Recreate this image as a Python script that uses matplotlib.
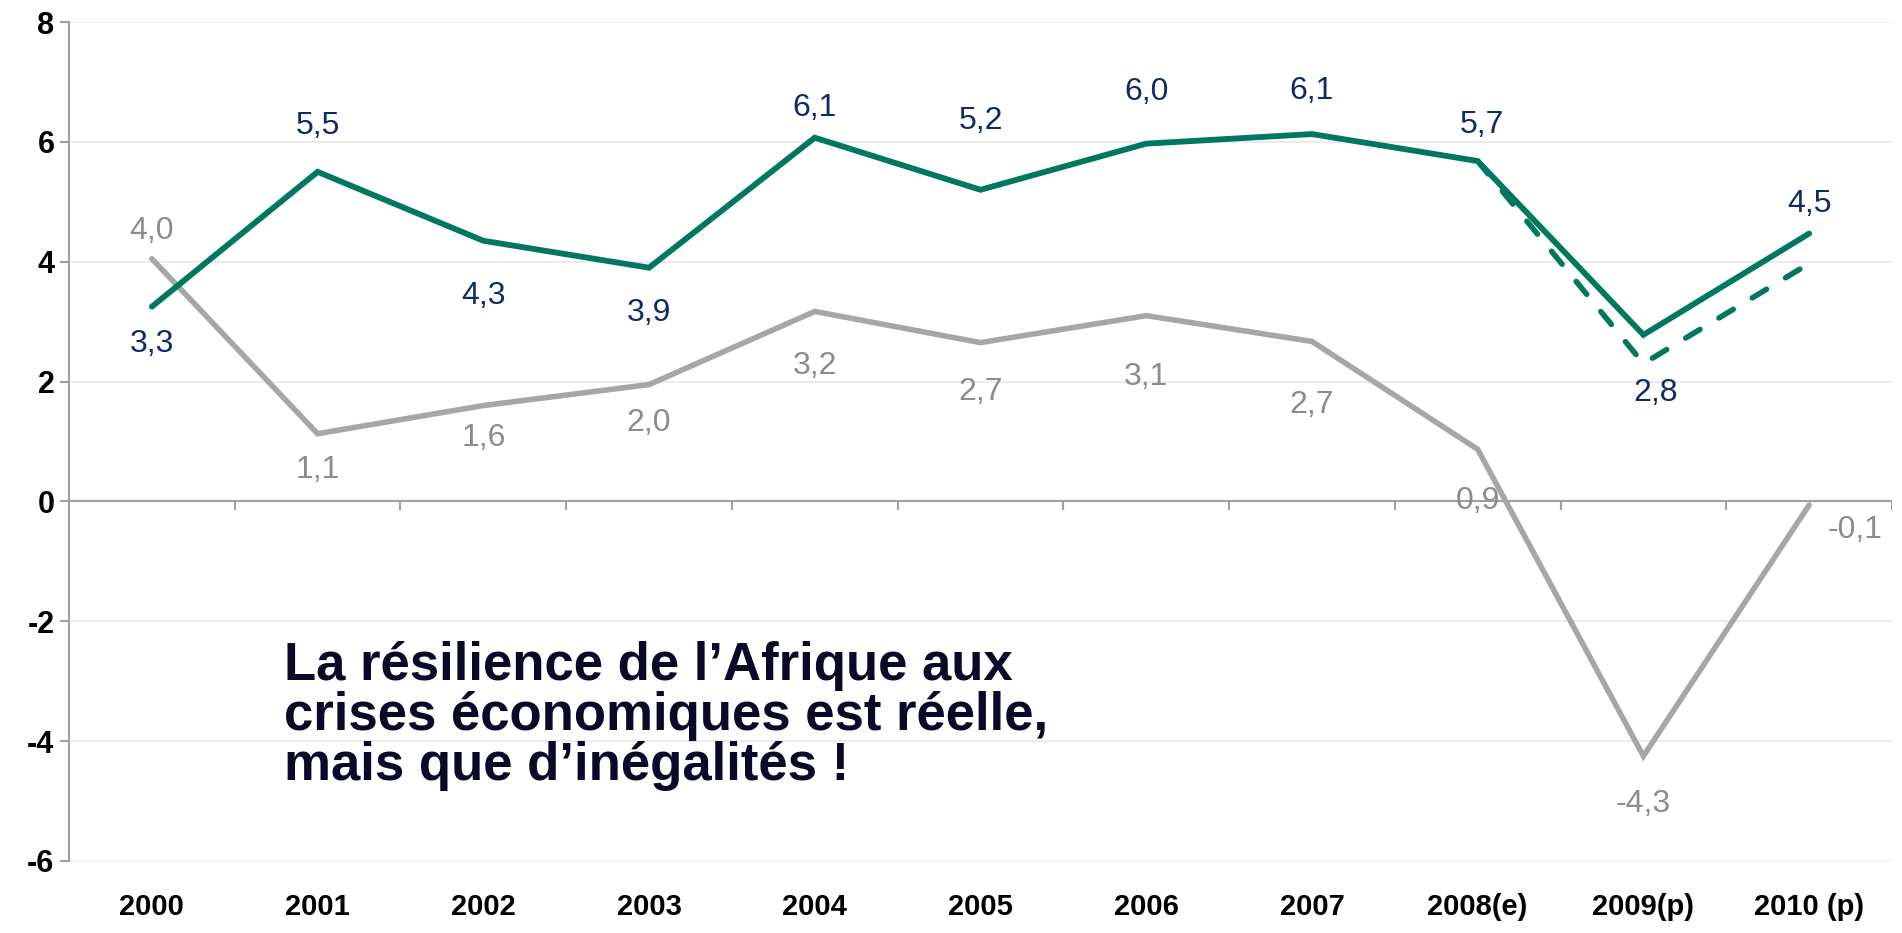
import matplotlib
matplotlib.use("Agg")
import matplotlib.pyplot as plt
import numpy as np

plt.rcParams['font.family'] = ['Liberation Sans', 'DejaVu Sans']
plt.rcParams['axes.unicode_minus'] = False

years = ["2000", "2001", "2002", "2003", "2004", "2005", "2006", "2007",
         "2008(e)", "2009(p)", "2010 (p)"]
afrique = [3.25, 5.5, 4.35, 3.9, 6.07, 5.2, 5.97, 6.13, 5.68, 2.78, 4.47]
afrique_lbl = ["3,3", "5,5", "4,3", "3,9", "6,1", "5,2", "6,0", "6,1", "5,7", "2,8", "4,5"]
afrique_prev = [5.68, 2.3, 3.97]          # ancienne prévision, 2008 -> 2010
monde = [4.05, 1.13, 1.6, 1.95, 3.17, 2.65, 3.1, 2.67, 0.87, -4.25, -0.06]
monde_lbl = ["4,0", "1,1", "1,6", "2,0", "3,2", "2,7", "3,1", "2,7", "0,9", "-4,3", "-0,1"]

# label offsets in pixels (dx, dy), as placed in the original
afr_off = [(0, -37), (0, 46), (0, -55), (0, -45), (0, 30), (0, 69), (0, 52),
           (0, 43), (4, 36), (12, -58), (0, 30)]
mon_off = [(0, 28), (0, -36), (0, -32), (0, -38), (0, -55), (0, -49), (0, -61),
           (0, -64), (0, -52), (0, -48), (46, -25)]

GREEN = "#00785F"
GREY = "#A6A6A6"
NAVY = "#0E2A6A"
GREYTXT = "#8C8C8C"

fig = plt.figure(figsize=(19.02, 9.33), dpi=100)
ax = fig.add_axes([69 / 1902, 1 - 861 / 933, (1892 - 69) / 1902, 839 / 933])

x = np.arange(len(years))
ax.set_xlim(-0.5, len(years) - 0.5)
ax.set_ylim(-6, 8)
ax.set_yticks(range(-6, 9, 2))
ax.grid(axis="y", color="#EBEBEB", lw=1.5)
ax.set_axisbelow(True)

for s in ["top", "right", "bottom"]:
    ax.spines[s].set_visible(False)
ax.spines["left"].set_color("#A0A0A0")
ax.spines["left"].set_linewidth(1.5)
ax.axhline(0, color="#A0A0A0", lw=1.5, zorder=1)
ax.vlines(np.arange(len(years) + 1) - 0.5, -0.15, 0, color="#A0A0A0", lw=1.5, zorder=1)

ax.plot(x, monde, color=GREY, lw=4, solid_capstyle="round", solid_joinstyle="miter", zorder=2)
ax.plot(x[-3:], afrique_prev, color=GREEN, lw=4, ls=(0, (3, 4)), dash_capstyle="round", zorder=3)
ax.plot(x, afrique, color=GREEN, lw=4.2, solid_capstyle="round", solid_joinstyle="miter", zorder=4)

k = 72 / 100  # px -> points
for i in range(len(years)):
    dx, dy = afr_off[i]
    ax.annotate(afrique_lbl[i], (x[i], afrique[i]), xytext=(dx * k, dy * k), textcoords="offset points",
                ha="center", va="center", fontsize=23, color=NAVY)
    dx, dy = mon_off[i]
    ax.annotate(monde_lbl[i], (x[i], monde[i]), xytext=(dx * k, dy * k), textcoords="offset points",
                ha="center", va="center", fontsize=23, color=GREYTXT)

ax.set_xticks(x)
ax.set_xticklabels(years, fontsize=21, fontweight="bold")
ax.tick_params(axis="x", length=0, pad=23)
ax.tick_params(axis="y", length=6.5, width=1.5, color="#A0A0A0", pad=4, labelsize=22)
for t in ax.get_yticklabels():
    t.set_fontweight("bold")

ax.text(0.118, 0.262, "La résilience de l’Afrique aux\ncrises économiques est réelle,\nmais que d’inégalités !",
        transform=ax.transAxes, ha="left", va="top", fontsize=38, fontweight="bold",
        color="#0A0A28", linespacing=1.0)

fig.savefig("out.png", dpi=100)
